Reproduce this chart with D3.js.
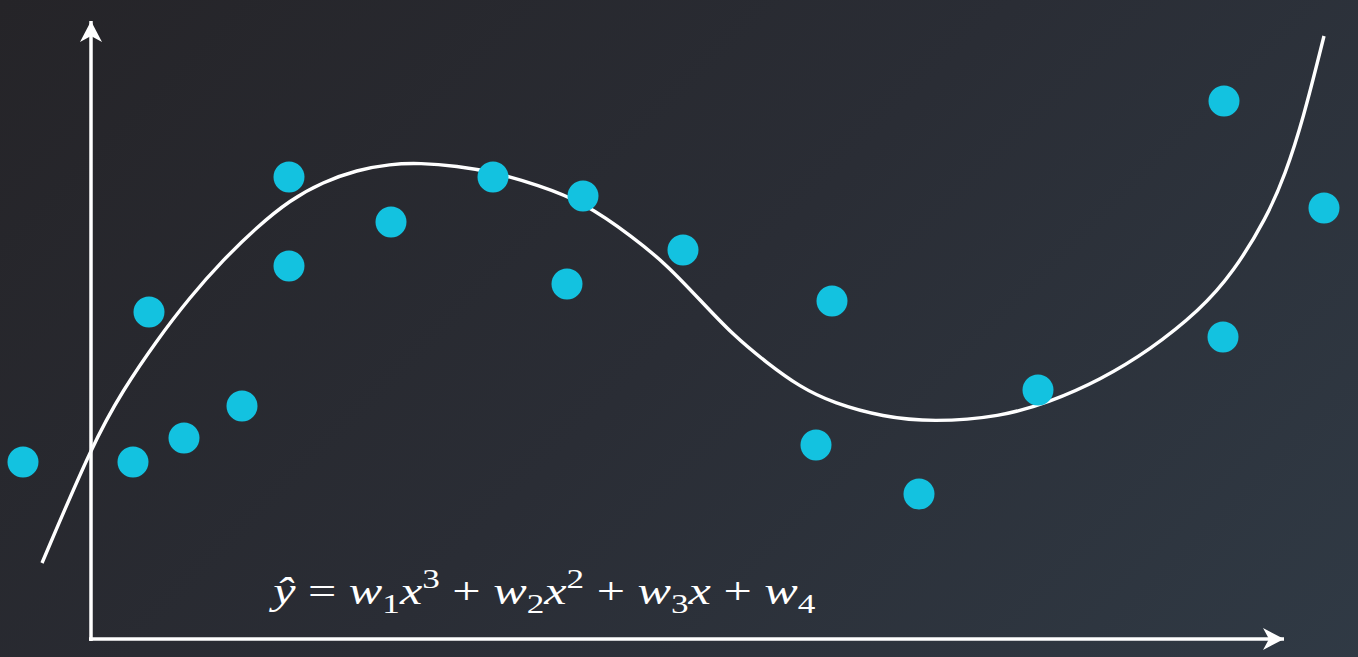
<!DOCTYPE html>
<html>
<head>
<meta charset="utf-8">
<script src="https://cdn.jsdelivr.net/npm/d3@7"></script>
<style>
html,body{margin:0;padding:0;background:#2a2d35;overflow:hidden;}
svg{display:block;}
</style>
</head>
<body>
<svg id="chart" width="1358" height="657"></svg>
<script>
// ---- data (x, y in chart units) ----
const pointX = [-0.68, 0.42, 0.93, 1.51, 0.58, 1.98, 1.98, 3.00, 4.02, 4.92, 4.76, 5.92, 7.41, 7.25, 8.28, 9.47, 11.33, 11.32, 12.33];
const pointY = [ 1.77, 1.77, 2.01, 2.33, 3.27, 3.73, 4.62, 4.17, 4.62, 4.43, 3.55, 3.89, 3.38, 1.94, 1.45, 2.49,  5.38,  3.02,  4.31];

const curveX = [-0.49, 0.02, 0.32, 0.66, 0.99, 1.32, 1.66, 1.99, 2.32, 2.66, 2.99, 3.29, 3.66, 4.02, 4.47, 4.92, 5.42, 5.76, 6.09, 6.42, 6.76, 7.09, 7.42, 7.92, 8.42, 9.09, 9.59, 10.09, 10.59, 11.09, 11.42, 11.76, 11.94, 12.12, 12.33];
const curveY = [ 0.76, 1.96, 2.49, 2.99, 3.42, 3.79, 4.12, 4.39, 4.57, 4.69, 4.75, 4.76, 4.73, 4.67, 4.54, 4.37, 4.02, 3.74, 3.39, 3.04, 2.76, 2.52, 2.36, 2.22, 2.17, 2.22, 2.37,  2.59,  2.89,  3.29,  3.66,  4.22,  4.64,  5.19,  6.03];

const equation = [
  {t:"ŷ", k:"i"}, {t:" = ", k:"n"},
  {t:"w", k:"i"}, {t:"1", k:"sub"}, {t:"x", k:"i"}, {t:"3", k:"sup"}, {t:" + ", k:"n"},
  {t:"w", k:"i"}, {t:"2", k:"sub"}, {t:"x", k:"i"}, {t:"2", k:"sup"}, {t:" + ", k:"n"},
  {t:"w", k:"i"}, {t:"3", k:"sub"}, {t:"x", k:"i"}, {t:" + ", k:"n"},
  {t:"w", k:"i"}, {t:"4", k:"sub"}
];

// ---- drawing ----
const W = 1358, H = 657;
const svg = d3.select("#chart");

const defs = svg.append("defs");
const grad = defs.append("linearGradient").attr("id","bg")
  .attr("gradientUnits","userSpaceOnUse")
  .attr("x1",0).attr("y1",0).attr("x2",W*0.75).attr("y2",H*1.55);
grad.append("stop").attr("offset","0%").attr("stop-color","#252428");
grad.append("stop").attr("offset","50%").attr("stop-color","#2a2d35");
grad.append("stop").attr("offset","100%").attr("stop-color","#303a45");
svg.append("rect").attr("width",W).attr("height",H).attr("fill","url(#bg)");

const marker = defs.append("marker").attr("id","arrow")
  .attr("markerUnits","userSpaceOnUse")
  .attr("viewBox","-22 -12 24 24")
  .attr("refX",0).attr("refY",0)
  .attr("markerWidth",24).attr("markerHeight",24)
  .attr("orient","auto");
marker.append("path").attr("d","M0,0 L-21,-11 L-15,0 L-21,11 Z").attr("fill","#ffffff");

const x = d3.scaleLinear().domain([0, 12]).range([91, 1291]);
const y = d3.scaleLinear().domain([0, 6]).range([639, 39]);

// axes
svg.append("line")
  .attr("x1", x(0)).attr("y1", y(-0.02))
  .attr("x2", x(0)).attr("y2", y(6.18))
  .attr("stroke","#fff").attr("stroke-width",3.5)
  .attr("marker-end","url(#arrow)");
svg.append("line")
  .attr("x1", x(-0.02)).attr("y1", y(0))
  .attr("x2", x(11.93)).attr("y2", y(0))
  .attr("stroke","#fff").attr("stroke-width",3.5)
  .attr("marker-end","url(#arrow)");

// fitted curve
const line = d3.line()
  .x(d => x(d[0])).y(d => y(d[1]))
  .curve(d3.curveBasis);
svg.append("path")
  .datum(d3.zip(curveX, curveY))
  .attr("d", line)
  .attr("fill","none").attr("stroke","#fff").attr("stroke-width",3.4);

// points
svg.append("g").selectAll("circle")
  .data(d3.zip(pointX, pointY))
  .join("circle")
  .attr("cx", d => x(d[0])).attr("cy", d => y(d[1]))
  .attr("r", 15.5).attr("fill","#13c2e0");

// equation
const fs = 39;
const eq = svg.append("text")
  .attr("x", 0).attr("y", 0)
  .attr("fill","#fff")
  .attr("font-family","'Liberation Serif','DejaVu Serif',serif")
  .attr("font-size", fs);
let cur = 0;
equation.forEach(s => {
  let target = 0, size = fs, style = "normal";
  if (s.k === "i") style = "italic";
  if (s.k === "sub") { target = fs*0.22; size = fs*0.7; }
  if (s.k === "sup") { target = -fs*0.42; size = fs*0.7; }
  eq.append("tspan")
    .attr("dy", target - cur)
    .attr("font-size", size)
    .attr("font-style", style)
    .attr("xml:space","preserve")
    .style("white-space","pre")
    .text(s.t);
  cur = target;
});
const bb = eq.node().getBBox();
const targetW = 548, targetLeft = 268, baseline = 604;
const sx = targetW / bb.width;
eq.attr("transform", `translate(${targetLeft - bb.x*sx},${baseline}) scale(${sx},1)`);
</script>
</body>
</html>
